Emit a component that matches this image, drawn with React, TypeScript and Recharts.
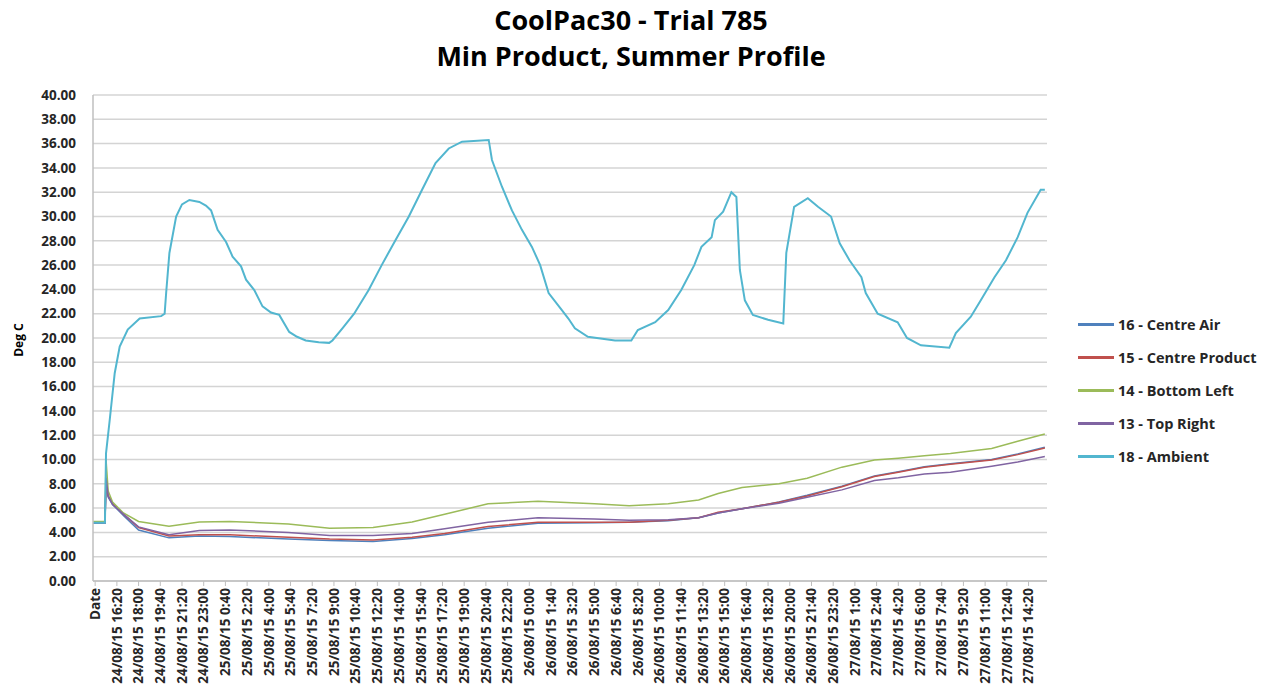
import React from 'react';
import { LineChart, Line, XAxis, YAxis, CartesianGrid, Legend } from 'recharts';

const X_LABELS = [
  'Date',
  '24/08/15 16:20', '24/08/15 18:00', '24/08/15 19:40', '24/08/15 21:20', '24/08/15 23:00',
  '25/08/15 0:40', '25/08/15 2:20', '25/08/15 4:00', '25/08/15 5:40', '25/08/15 7:20',
  '25/08/15 9:00', '25/08/15 10:40', '25/08/15 12:20', '25/08/15 14:00', '25/08/15 15:40',
  '25/08/15 17:20', '25/08/15 19:00', '25/08/15 20:40', '25/08/15 22:20',
  '26/08/15 0:00', '26/08/15 1:40', '26/08/15 3:20', '26/08/15 5:00', '26/08/15 6:40',
  '26/08/15 8:20', '26/08/15 10:00', '26/08/15 11:40', '26/08/15 13:20', '26/08/15 15:00',
  '26/08/15 16:40', '26/08/15 18:20', '26/08/15 20:00', '26/08/15 21:40', '26/08/15 23:20',
  '27/08/15 1:00', '27/08/15 2:40', '27/08/15 4:20', '27/08/15 6:00', '27/08/15 7:40',
  '27/08/15 9:20', '27/08/15 11:00', '27/08/15 12:40', '27/08/15 14:20',
];
const X_TICKS = X_LABELS.map((_, i) => i);
const Y_TICKS = [0, 2, 4, 6, 8, 10, 12, 14, 16, 18, 20, 22, 24, 26, 28, 30, 32, 34, 36, 38, 40];

// positions in label units (0 = "Date", 1 = first time label, ...)
const LOW_X = [-0.1, 0.45, 0.5, 0.6, 0.8, 1.3, 2.0, 3.4, 4.8, 6.2, 8.9, 10.8, 12.8, 14.6, 16.1, 18.1, 20.4, 23.0, 24.6, 26.4, 27.8, 28.7, 29.8, 31.5, 32.8, 34.4, 35.9, 37.0, 38.2, 39.4, 41.3, 42.5, 43.75];
const CENTRE_AIR = [4.75, 4.75, 7.8, 6.9, 6.3, 5.4, 4.2, 3.55, 3.7, 3.66, 3.45, 3.33, 3.25, 3.5, 3.8, 4.35, 4.75, 4.8, 4.84, 4.95, 5.2, 5.6, 5.94, 6.5, 7.05, 7.8, 8.65, 9.0, 9.4, 9.65, 10.0, 10.45, 11.0];
const CENTRE_PRODUCT = [4.8, 4.8, 8.0, 7.0, 6.4, 5.5, 4.4, 3.7, 3.8, 3.8, 3.6, 3.45, 3.38, 3.6, 3.9, 4.48, 4.84, 4.84, 4.84, 5.0, 5.2, 5.66, 5.94, 6.49, 7.0, 7.75, 8.6, 8.95, 9.37, 9.6, 9.95, 10.4, 10.95];
const BOTTOM_LEFT = [4.9, 4.9, 10.0, 7.4, 6.5, 5.6, 4.9, 4.5, 4.85, 4.9, 4.7, 4.35, 4.4, 4.85, 5.5, 6.35, 6.57, 6.35, 6.2, 6.35, 6.66, 7.2, 7.7, 8.0, 8.45, 9.37, 9.95, 10.1, 10.3, 10.5, 10.9, 11.5, 12.1];
const TOP_RIGHT = [4.75, 4.75, 8.5, 7.0, 6.3, 5.5, 4.45, 3.8, 4.15, 4.2, 4.0, 3.75, 3.75, 3.9, 4.3, 4.84, 5.2, 5.1, 5.0, 5.05, 5.2, 5.6, 5.94, 6.4, 6.9, 7.5, 8.27, 8.49, 8.8, 8.95, 9.45, 9.8, 10.24];

const AMBIENT_X = [-0.1, 0.45, 0.5, 0.67, 0.9, 1.13, 1.5, 2.05, 3.04, 3.2, 3.27, 3.42, 3.73, 4.0, 4.34, 4.8, 5.1, 5.34, 5.64, 6.03, 6.33, 6.72, 6.95, 7.33, 7.71, 8.1, 8.48, 8.94, 9.3, 9.7, 10.3, 10.78, 10.93, 11.39, 11.93, 12.6, 13.2, 13.84, 14.45, 15.06, 15.68, 16.29, 16.9, 18.13, 18.28, 18.74, 19.2, 19.66, 20.12, 20.5, 20.89, 21.5, 21.8, 22.1, 22.7, 23.95, 24.7, 25.0, 25.8, 26.4, 27.0, 27.6, 27.93, 28.4, 28.55, 28.93, 29.31, 29.54, 29.7, 29.93, 30.3, 31.0, 31.7, 31.84, 32.2, 32.83, 33.3, 33.9, 34.3, 34.75, 35.3, 35.5, 36.05, 36.97, 37.4, 38.04, 39.35, 39.65, 40.34, 40.8, 41.43, 41.96, 42.5, 42.95, 43.56, 43.75];
const AMBIENT = [4.8, 4.8, 10.5, 13.25, 17.1, 19.3, 20.7, 21.6, 21.8, 22.0, 23.7, 27.0, 30.0, 31.0, 31.36, 31.2, 30.9, 30.5, 28.9, 27.9, 26.7, 25.9, 24.8, 23.95, 22.6, 22.1, 21.9, 20.5, 20.1, 19.8, 19.65, 19.6, 19.8, 20.8, 22.0, 23.95, 26.0, 28.07, 30.0, 32.2, 34.4, 35.6, 36.16, 36.3, 34.65, 32.45, 30.5, 28.9, 27.5, 26.0, 23.7, 22.3, 21.6, 20.8, 20.1, 19.8, 19.8, 20.66, 21.3, 22.3, 23.95, 26.0, 27.5, 28.3, 29.7, 30.4, 32.0, 31.6, 25.6, 23.1, 21.9, 21.5, 21.2, 27.0, 30.8, 31.5, 30.8, 30.0, 27.8, 26.4, 25.0, 23.7, 22.0, 21.3, 20.0, 19.4, 19.2, 20.4, 21.75, 23.1, 25.0, 26.4, 28.3, 30.3, 32.2, 32.2];

const toPoints = (xs: number[], ys: number[]) => xs.map((x, i) => ({ x, y: ys[i] }));

const SERIES = [
  { name: '16 - Centre Air', color: '#4F81BD', data: toPoints(LOW_X, CENTRE_AIR), width: 1.5 },
  { name: '15 - Centre Product', color: '#C0504D', data: toPoints(LOW_X, CENTRE_PRODUCT), width: 1.5 },
  { name: '14 - Bottom Left', color: '#9BBB59', data: toPoints(LOW_X, BOTTOM_LEFT), width: 1.5 },
  { name: '13 - Top Right', color: '#8064A2', data: toPoints(LOW_X, TOP_RIGHT), width: 1.5 },
  { name: '18 - Ambient', color: '#52B6CF', data: toPoints(AMBIENT_X, AMBIENT), width: 2 },
];

const FONT = '"Open Sans", "Liberation Sans", sans-serif';

const XTick = (props: any) => {
  const { x, y, payload } = props;
  return (
    <g transform={`translate(${x},${y})`}>
      <text transform="rotate(-90)" textAnchor="end" dy="0.35em" fontSize={13.5} fontWeight={700} fill="#262626" fontFamily={FONT}>
        {X_LABELS[payload.value]}
      </text>
    </g>
  );
};

const renderLegend = () => (
  <div style={{ fontFamily: FONT, fontSize: 14.5, fontWeight: 700, color: '#262626' }}>
    {SERIES.map((s) => (
      <div key={s.name} style={{ display: 'flex', alignItems: 'center', height: 33 }}>
        <span style={{ display: 'inline-block', width: 36, height: 2.5, background: s.color, marginRight: 4 }} />
        <span style={{ whiteSpace: 'nowrap' }}>{s.name}</span>
      </div>
    ))}
  </div>
);

export default function App() {
  return (
    <div style={{ position: 'absolute', left: 0, top: 0, width: 1262, height: 695, background: '#fff', fontFamily: FONT }}>
      <LineChart width={1262} height={695} margin={{ top: 95, right: 31, bottom: 0, left: 0 }}>
        <CartesianGrid vertical={false} stroke="#d4d4d4" strokeWidth={1.5} />
        <XAxis
          type="number"
          dataKey="x"
          domain={[-0.1, 43.85]}
          ticks={X_TICKS}
          interval={0}
          allowDataOverflow
          height={114}
          tick={<XTick />}
          tickSize={5}
          tickMargin={2}
          stroke="#bfbfbf"
          axisLine={{ stroke: '#bfbfbf', strokeWidth: 1.5 }}
        />
        <YAxis
          type="number"
          domain={[0, 40]}
          ticks={Y_TICKS}
          interval={0}
          width={93}
          tickFormatter={(v: number) => v.toFixed(2)}
          tick={{ fontSize: 13.5, fontWeight: 700, fill: '#262626', fontFamily: FONT }}
          tickLine={false}
          tickSize={0}
          tickMargin={17}
          axisLine={{ stroke: '#bfbfbf', strokeWidth: 1.5 }}
        />
        <Legend
          layout="vertical"
          align="right"
          verticalAlign="middle"
          content={renderLegend}
          wrapperStyle={{ left: 1078, top: 308, width: 184 }}
        />
        {SERIES.map((s) => (
          <Line
            key={s.name}
            data={s.data}
            dataKey="y"
            name={s.name}
            type="linear"
            stroke={s.color}
            strokeWidth={s.width}
            dot={false}
            activeDot={false}
            isAnimationActive={false}
          />
        ))}
      </LineChart>
      <div style={{ position: 'absolute', left: 0, top: 2, width: 1262, textAlign: 'center', fontSize: 27, fontWeight: 700, color: '#000', lineHeight: '36px' }}>
        <div>CoolPac30 - Trial 785</div>
        <div>Min Product, Summer Profile</div>
      </div>
      <div style={{ position: 'absolute', left: 18, top: 340, transform: 'translate(-50%,-50%) rotate(-90deg)', fontSize: 12, fontWeight: 700, color: '#000', whiteSpace: 'nowrap' }}>
        Deg C
      </div>
    </div>
  );
}
